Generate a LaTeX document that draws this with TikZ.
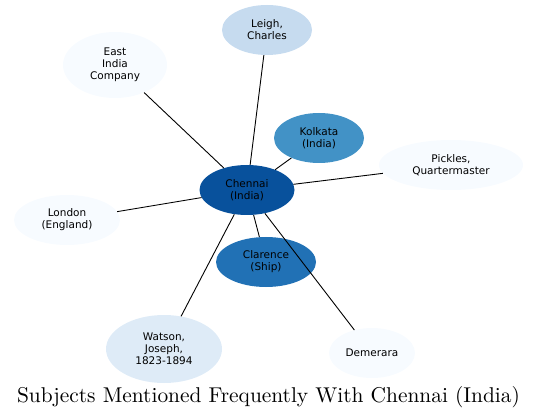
\documentclass[tikz,border=0pt]{standalone}
\usepackage{fontspec}
\newfontfamily\nodefont{DejaVu Sans}
\newfontfamily\titlefont{lmroman10-regular.otf}
\usetikzlibrary{shapes.geometric}
\definecolor{cA}{HTML}{F7FBFF}
\definecolor{cB}{HTML}{DEEBF7}
\definecolor{cC}{HTML}{C6DBEF}
\definecolor{cD}{HTML}{4292C6}
\definecolor{cE}{HTML}{2171B5}
\definecolor{cF}{HTML}{08519C}
\tikzset{
  subj/.style={ellipse, inner sep=0pt, align=center, text=black,
    font=\nodefont\fontsize{10.5}{12}\selectfont},
  link/.style={draw=black, line width=0.9pt}
}
\begin{document}
\begin{tikzpicture}[x=1pt,y=-1pt]
\useasboundingbox (0,0) rectangle (537,419);
\node[subj, fill=cC, minimum width=90, minimum height=50] (leigh) at (267,30) {Leigh,\\Charles};
\node[subj, fill=cA, minimum width=104, minimum height=66] (eic) at (115,65) {East\\India\\Company};
\node[subj, fill=cD, minimum width=90, minimum height=50] (kol) at (319,138) {Kolkata\\(India)};
\node[subj, fill=cA, minimum width=144, minimum height=50] (pick) at (451,165) {Pickles,\\Quartermaster};
\node[subj, fill=cF, minimum width=95, minimum height=50] (chen) at (247,190) {Chennai\\(India)};
\node[subj, fill=cA, minimum width=106, minimum height=50] (lon) at (67,220) {London\\(England)};
\node[subj, fill=cE, minimum width=100, minimum height=50] (clar) at (266,262) {Clarence\\(Ship)};
\node[subj, fill=cB, minimum width=116, minimum height=68] (wat) at (164,349) {Watson,\\Joseph,\\1823-1894};
\node[subj, fill=cA, minimum width=86, minimum height=50] (dem) at (372,353) {Demerara};
\draw[link] (chen) -- (leigh);
\draw[link] (chen) -- (eic);
\draw[link] (chen) -- (kol);
\draw[link] (chen) -- (pick);
\draw[link] (chen) -- (lon);
\draw[link] (chen) -- (clar);
\draw[link] (chen) -- (wat);
\draw[link] (chen) -- (dem);
\node[font=\titlefont\fontsize{21.4}{25}\selectfont, inner sep=0pt] (title) at (268.5,397) {Subjects Mentioned Frequently With Chennai (India)};
\end{tikzpicture}
\end{document}
